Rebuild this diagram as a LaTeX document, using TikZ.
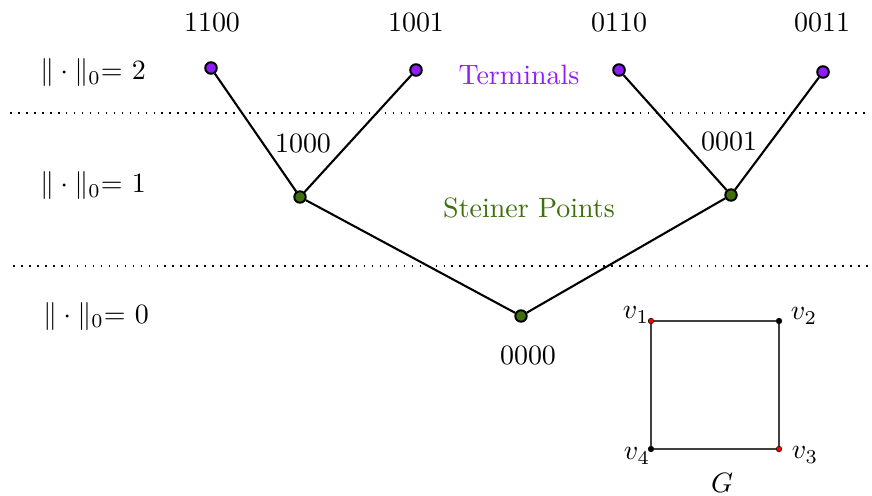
\documentclass[tikz,border=0pt]{standalone}
\usetikzlibrary{positioning}
\definecolor{termcol}{RGB}{143,28,250}
\definecolor{steincol}{RGB}{62,112,16}
\begin{document}
\begin{tikzpicture}[x=0.3575pt,y=-0.3575pt,
  term/.style={circle,draw=black,fill=termcol,line width=0.7pt,inner sep=0pt,minimum size=4.14pt},
  stein/.style={circle,draw=black,fill=steincol,line width=0.7pt,inner sep=0pt,minimum size=4.1pt},
  gdot/.style={circle,fill=#1,draw=black,line width=0.2pt,inner sep=0pt,minimum size=2pt},
  edge/.style={line width=0.75pt},
  gedge/.style={line width=0.45pt,draw=black!75},
  sep/.style={line width=0.6pt,dash pattern=on 0.6pt off 2.25pt},
  lbl/.style={inner sep=0pt}]
\useasboundingbox (0,0) rectangle (872,495);
% separators
\coordinate (s1a) at (10,113); \coordinate (s1b) at (868,113);
\coordinate (s2a) at (13,266); \coordinate (s2b) at (872,266);
\draw[sep] (s1a) -- (s1b);
\draw[sep] (s2a) -- (s2b);
% nodes
\node[term] (t1) at (211,68) {};
\node[term] (t2) at (416,70) {};
\node[term] (t3) at (619,70) {};
\node[term] (t4) at (823,72) {};
\node[stein] (p1) at (300,197) {};
\node[stein] (p2) at (731,195) {};
\node[stein] (p0) at (521,316) {};
\draw[edge] (t1) -- (p1);
\draw[edge] (t2) -- (p1);
\draw[edge] (t3) -- (p2);
\draw[edge] (t4) -- (p2);
\draw[edge] (p1) -- (p0);
\draw[edge] (p2) -- (p0);
% labels
\node[lbl] (l1) at (212,22) {1100};
\node[lbl] (l2) at (416,22) {1001};
\node[lbl] (l3) at (619,22) {0110};
\node[lbl] (l4) at (822,22) {0011};
\node[lbl] (l5) at (303,143) {1000};
\node[lbl] (l6) at (729,141) {0001};
\node[lbl] (l7) at (528,355) {0000};
\node[lbl,text=termcol] (tl) at (519,75) {Terminals};
\node[lbl,text=steincol] (sl) at (529,208) {Steiner Points};
\node[lbl] (n2) at (93,73) {$\|\cdot\|_0$= 2};
\node[lbl] (n1) at (93,186) {$\|\cdot\|_0$= 1};
\node[lbl] (n0) at (96,316) {$\|\cdot\|_0$= 0};
% graph G
\node[gdot=red] (v1) at (651,321) {};
\node[gdot=black] (v2) at (779,321) {};
\node[gdot=red] (v3) at (779,449) {};
\node[gdot=black] (v4) at (651,449) {};
\draw[gedge] (v1) -- (v2) -- (v3) -- (v4) -- (v1);
\node[lbl] (lv1) at (636,315) {$v_1$};
\node[lbl] (lv2) at (804,316) {$v_2$};
\node[lbl] (lv3) at (805,455) {$v_3$};
\node[lbl] (lv4) at (637,456) {$v_4$};
\node[lbl] (lg) at (722,483) {$G$};
\end{tikzpicture}
\end{document}
